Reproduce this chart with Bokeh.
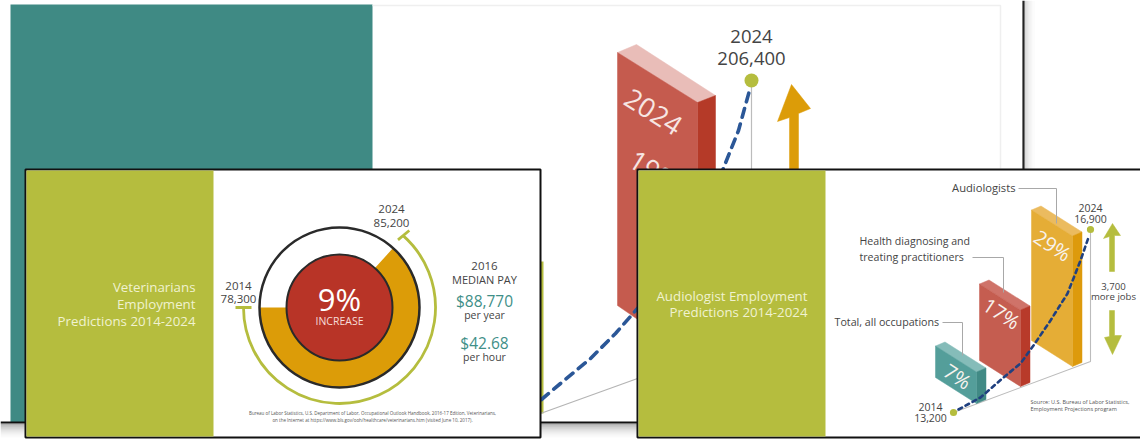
from math import radians
from bokeh.core.properties import value
from bokeh.embed import file_html
from bokeh.plotting import figure
from bokeh.resources import INLINE

# Figures printed on the slides
vet_years = ["2014", "2024"]
vet_jobs = ["78,300", "85,200"]
vet_increase = "9%"
vet_pay = ["$88,770", "$42.68"]
vet_pay_units = ["per year", "per hour"]

aud_years = ["2014", "2024"]
aud_jobs = ["13,200", "16,900"]
aud_groups = ["Total, all occupations", "Health diagnosing and treating practitioners", "Audiologists"]
aud_growth = [7, 17, 29]

back_year = "2024"
back_jobs = "206,400"
back_growth = "19%"

OLIVE = "#b5bd3e"
INK = "#444444"
FONT = "Open Sans"

W, H = 1140, 439
p = figure(width=W, height=H, x_range=(0, W), y_range=(H, 0), output_backend="svg",
           toolbar_location=None, min_border=0, background_fill_color="white",
           border_fill_color="white", outline_line_color=None)
p.axis.visible = False
p.grid.visible = False


def txt(x, y, s, size, color=INK, align="center", angle=0, weight="normal"):
    p.text([x], [y], text=[s], text_font=value(FONT), text_font_size=f"{size}px",
           text_color=color, text_align=align, text_baseline="middle", angle=angle,
           text_font_style=weight)


def poly(xs, ys, color):
    p.patch(xs, ys, fill_color=color, line_color=color, line_width=0.5)


def seg(xs, ys, color, width=1.0, **kw):
    p.line(xs, ys, line_color=color, line_width=width, **kw)


# Slide at the back
p.quad(left=10, right=372, top=4, bottom=422, fill_color="#3f8a84", line_color=None)
seg([372, 1000, 1000], [5, 5, 168], "#efefef", 1.5)

seg([541.5, 541.5], [261, 413], OLIVE, 3)
seg([540, 637], [413, 378], "#b4b4b4", 1.2)
seg([751, 751], [85, 170], "#bcbcbc", 1.2)

# Tall red block with its label
poly([617, 636, 715, 697], [52, 44, 95, 102], "#e9bdb8")
poly([697, 715, 715, 697], [102, 95, 330, 318], "#b53a28")
poly([617, 697, 697, 617], [52, 102, 360, 305], "#c55b4e")
txt(653, 111, back_year, 27, "#f7e6e3", angle=-0.56)
txt(654, 170, back_growth, 27, "#f7e6e3", angle=-0.56)

back_curve_x = [541, 560, 590, 615, 637, 670, 700, 722, 738, 749]
back_curve_y = [399, 383, 358, 333, 308, 265, 215, 170, 130, 90]
seg(back_curve_x, back_curve_y, "#2b5797", 3.6, line_dash="9 7", line_cap="round")

p.circle([751], [80], radius=7, fill_color=OLIVE, line_color=None)
txt(751, 36, back_year, 18.5)
txt(751, 58, back_jobs, 18.5)
poly([791, 777, 789, 789, 798, 798, 810], [84, 121, 117, 172, 172, 113, 108], "#dc9c08")

# Soft shadow under and beside the back slide
for i, a in enumerate([0.30, 0.22, 0.16, 0.11, 0.07, 0.04, 0.02]):
    seg([0, 640], [424 + i * 2, 424 + i * 2], "black", 2, line_alpha=a)
    seg([1025 + i * 1.5, 1025 + i * 1.5], [0, 170], "black", 1.5, line_alpha=a * 0.5)
seg([0, 640], [422, 422], "#111111", 2.2)
seg([1023, 1023], [0, 170], "#222222", 2.2)

# Left slide: veterinarians
p.quad(left=25, right=540, top=169, bottom=437, fill_color="white", line_color="#111111", line_width=2)
p.quad(left=26, right=213, top=170, bottom=436, fill_color=OLIVE, line_color=None)
for y, s in zip([286, 303, 320], ["Veterinarians", "Employment", "Predictions 2014-2024"]):
    txt(195, y, s, 13.3, "#f0f2d0", align="right")

cx, cy = 339, 307
p.annular_wedge([cx], [cy], inner_radius=53, outer_radius=80, start_angle=radians(180),
                end_angle=radians(48), direction="anticlock", fill_color="#dc9c08", line_color=None)
p.circle([cx], [cy], radius=80, fill_color=None, line_color="#2a2a2a", line_width=2.5)
p.circle([cx], [cy], radius=53, fill_color="#b83427", line_color="#2a2a2a", line_width=2)
p.arc([cx], [cy], radius=96, start_angle=radians(180), end_angle=radians(48.5),
      direction="anticlock", line_color=OLIVE, line_width=2.8)
seg([235, 251], [307, 307], OLIVE, 2.8)
seg([397.5, 408.8], [239.3, 230], OLIVE, 2.8)

txt(cx, 298, vet_increase, 31, "white")
txt(cx, 320, "INCREASE", 10.5, "#f6ddd8")
txt(238, 285, vet_years[0], 11.5)
txt(238, 298, vet_jobs[0], 11.5)
txt(391, 208, vet_years[1], 11.5)
txt(391, 222, vet_jobs[1], 11.5)

txt(484, 265, "2016", 11.5)
txt(484, 279, "MEDIAN PAY", 11)
txt(484, 300, vet_pay[0], 15.5, "#3f8f88")
txt(484, 314, vet_pay_units[0], 10.5)
txt(484, 342, vet_pay[1], 15.5, "#3f8f88")
txt(484, 356, vet_pay_units[1], 10.5)
txt(372, 412, "Bureau of Labor Statistics, U.S. Department of Labor, Occupational Outlook Handbook, 2016-17 Edition, Veterinarians,", 4.5, "#555555")
txt(372, 419, "on the Internet at https://www.bls.gov/ooh/healthcare/veterinarians.htm (visited June 10, 2017).", 4.5, "#555555")

# Right slide: audiologists
p.quad(left=637, right=1142, top=169, bottom=437, fill_color="white", line_color="#111111", line_width=2)
p.quad(left=638, right=825, top=170, bottom=436, fill_color=OLIVE, line_color=None)
txt(807, 295, "Audiologist Employment", 13.3, "#f0f2d0", align="right")
txt(807, 311, "Predictions 2014-2024", 13.3, "#f0f2d0", align="right")

# Baseline and riser behind the blocks
seg([953, 1090, 1090], [412, 361, 232], "#bcbcbc", 1.1)

# Isometric blocks: height on screen follows the growth percentage
PX_PER_POINT = 4.5
blocks = [
    (935, 377, "#85bcb9", "#549e9a", "#418a85", (957, 376)),
    (979, 360, "#cf7369", "#c55d50", "#b83a2a", (1001, 313)),
    (1031, 340, "#ebbb5f", "#e5ad36", "#dd9a0c", (1052, 245)),
]
for pct, (x0, y0, top_c, front_c, side_c, label) in zip(aud_growth, blocks):
    h = pct * PX_PER_POINT
    x1, y1 = x0 + 41, y0 + 26
    dx, dy = 9.5, -4
    poly([x0, x0 + dx, x1 + dx, x1], [y0 - h, y0 - h + dy, y1 - h + dy, y1 - h], top_c)
    poly([x1, x1 + dx, x1 + dx, x1], [y1 - h, y1 - h + dy, y1 + dy, y1], side_c)
    poly([x0, x1, x1, x0], [y0 - h, y1 - h, y1, y0], front_c)
    txt(label[0], label[1], f"{pct}%", 20, "#f8f3ee", angle=-0.58)

# Leader lines and block names
seg([1018, 1056, 1056], [188, 188, 223], "#a8a8a8", 1)
seg([972, 1003, 1003], [257, 257, 292], "#a8a8a8", 1)
seg([942, 962, 962], [322, 322, 355], "#a8a8a8", 1)
txt(1015, 187, aud_groups[2], 11.2, align="right")
txt(859, 240, "Health diagnosing and", 10.6, align="left")
txt(859, 256, "treating practitioners", 10.6, align="left")
txt(834, 321, aud_groups[0], 10.7, align="left")

curve_x = [958, 980, 1003, 1020, 1033, 1050, 1067, 1080, 1088]
curve_y = [409, 397, 377, 363, 345, 320, 293, 260, 237]
seg(curve_x, curve_y, "#20407f", 2.6, line_dash="4 4", line_cap="round")
p.circle([953, 1090], [412, 229], radius=3.6, fill_color=OLIVE, line_color=None)

txt(930, 406, aud_years[0], 10.5)
txt(930, 417, aud_jobs[0], 10.5)
txt(1090, 207, aud_years[1], 10.5)
txt(1090, 218, aud_jobs[1], 10.5)
txt(1113, 286, "3,700", 9.6)
txt(1113, 296, "more jobs", 9.6)

poly([1112, 1103, 1109, 1109, 1114, 1114, 1120], [223, 238, 236, 271, 271, 235, 235], OLIVE)
poly([1112, 1104, 1109, 1109, 1114, 1114, 1121], [354, 337, 336, 310, 310, 335, 335], OLIVE)

txt(1030, 401, "Source: U.S. Bureau of Labor Statistics,", 5.5, "#555555", align="left")
txt(1030, 408, "Employment Projections program", 5.5, "#555555", align="left")

open("out.html", "w").write(file_html(p, INLINE))
